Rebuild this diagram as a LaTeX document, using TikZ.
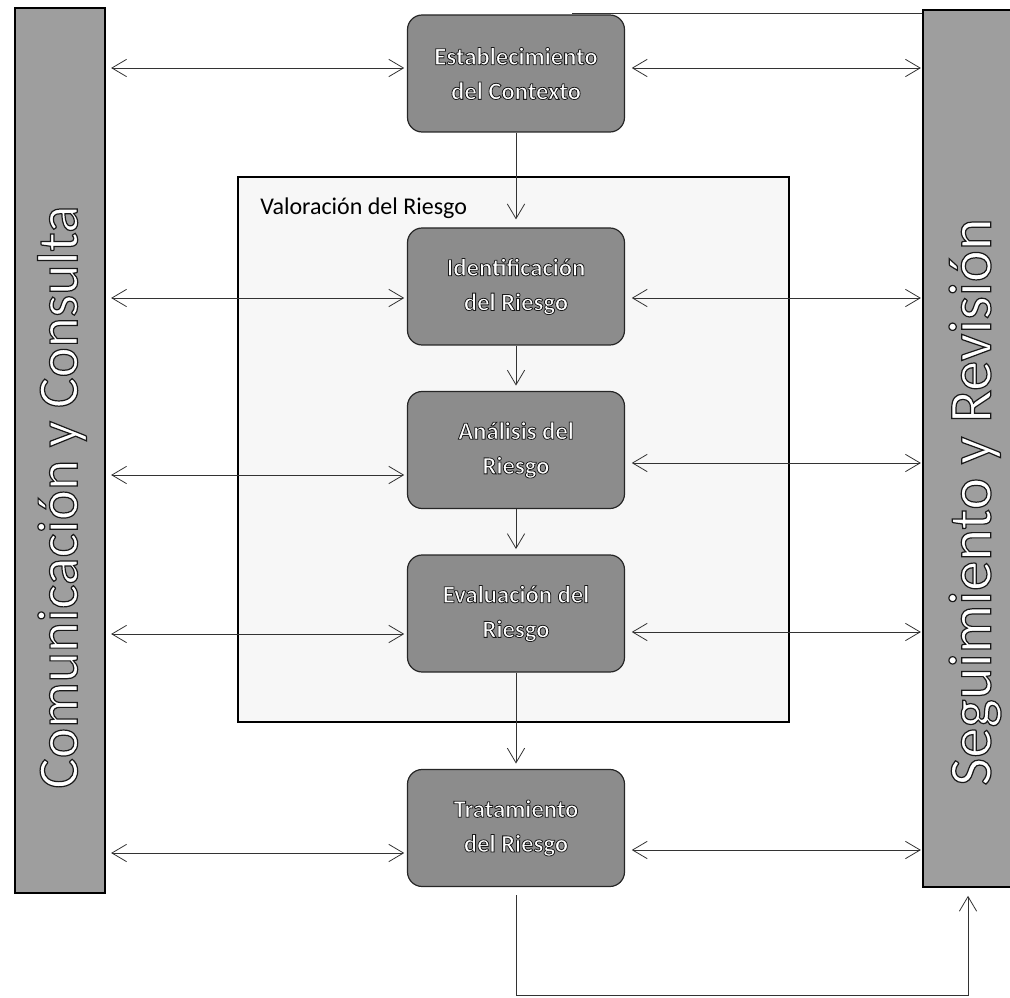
\documentclass[tikz,border=0pt]{standalone}
\usepackage{fontspec}
\setmainfont{Carlito}
\usetikzlibrary{arrows.meta}
% white text with a dark outline (fill + stroke text rendering mode)
\newcommand\olt[2][0.6]{\special{pdf:literal direct 2 Tr #1 w 0.1 0.1 0.1 RG}#2\special{pdf:literal direct 0 Tr}}
\begin{document}
\begin{tikzpicture}[x=0.75pt,y=-0.75pt,
  stage/.style={draw=black!85, line width=0.9pt, fill=black!45, rounded corners=11pt,
    minimum width=162.75pt, minimum height=87.75pt, align=center, text=white,
    font=\fontsize{18.5}{26}\selectfont\bfseries, inner sep=0pt},
  sidebar/.style={draw=black, line width=1.2pt, fill=black!38, inner sep=0pt},
  frame/.style={draw=black, line width=1pt, fill=black!3, inner sep=0pt},
  conn/.style={draw=black!80, line width=0.6pt},
  arr/.style={conn, -{Straight Barb[length=11pt,width=13pt]}},
  darr/.style={conn, {Straight Barb[length=11pt,width=13pt]}-{Straight Barb[length=11pt,width=13pt]}},
  sidetext/.style={rotate=90, text=white}
]
\useasboundingbox (0,0) rectangle (1010,998);

% frame of "Valoracion del Riesgo"
\node[frame, minimum width=413.25pt, minimum height=408.75pt] (val) at (513.5,449.5) {};
\node[anchor=base west, font=\fontsize{18}{20}\selectfont, inner sep=0pt] (vallab) at (260,215) {Valoración del Riesgo};

% side bars
\node[sidebar, minimum width=67.5pt, minimum height=663.75pt] (lb) at (60,450.5) {};
\node[sidetext, font=\fontsize{43}{46}\selectfont] (lbt) at (62,497) {\olt[0.9]{Comunicación y Consulta}};
\node[sidebar, minimum width=67.5pt, minimum height=657.75pt] (rb) at (968,448.5) {};
\node[sidetext, font=\fontsize{45.5}{48}\selectfont] (rbt) at (975,502) {\olt[0.9]{Seguimiento y Revisión}};

% stages
\node[stage] (estab) at (516,73.5) {\olt{Establecimiento}\\\olt{del Contexto}};
\node[stage] (ident) at (516,286.5) {\olt{Identificación}\\\olt{del Riesgo}};
\node[stage] (anal) at (516,450) {\olt{Análisis del}\\\olt{Riesgo}};
\node[stage] (eval) at (516,613.5) {\olt{Evaluación del}\\\olt{Riesgo}};
\node[stage] (trat) at (516,828) {\olt{Tratamiento}\\\olt{del Riesgo}};

% y levels of the horizontal connectors
\coordinate (l1) at (0,68);   \coordinate (r1) at (0,68);
\coordinate (l2) at (0,298);  \coordinate (r2) at (0,298);
\coordinate (l3) at (0,475);  \coordinate (r3) at (0,463);
\coordinate (l4) at (0,634);  \coordinate (r4) at (0,632);
\coordinate (l5) at (0,853);  \coordinate (r5) at (0,850);

\foreach \b/\i in {estab/1, ident/2, anal/3, eval/4, trat/5}{
  \draw[darr, shorten <=4pt, shorten >=2pt] (lb.east |- l\i) -- (\b.west |- l\i);
  \draw[darr, shorten <=5pt, shorten >=1pt] (\b.east |- r\i) -- (rb.west |- r\i);
}

% vertical flow
\draw[arr, shorten >=6pt] (estab.south) -- (ident.north);
\draw[arr, shorten >=4pt] (ident.south) -- (anal.north);
\draw[arr, shorten >=4pt] (anal.south) -- (eval.north);
\draw[arr, shorten >=4pt] (eval.south) -- (trat.north);

% feedback loop
\coordinate (lp) at (0,995);
\draw[arr, shorten <=6pt, shorten >=6pt] (trat.south) -- (trat.south |- lp) -| (rb.south);

% top line
\coordinate (tl) at (572,13);
\draw[conn] (tl) -- (rb.west |- tl);
\end{tikzpicture}
\end{document}
